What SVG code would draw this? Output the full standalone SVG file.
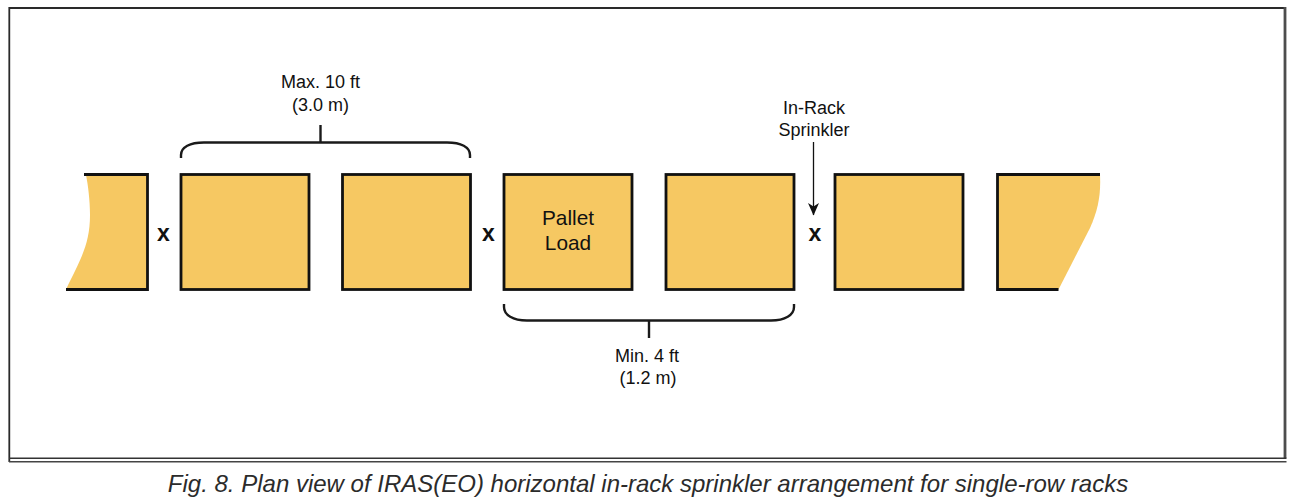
<svg xmlns="http://www.w3.org/2000/svg" width="1300" height="502" viewBox="0 0 1300 502">
<style>
.load{fill:#f6c862;stroke:#111;stroke-width:2.8}
.fill{fill:#f6c862;stroke:none}
.edge{fill:none;stroke:#111;stroke-width:2.8}
.brace{fill:none;stroke:#1a1a1a;stroke-width:2.4}
text{font-family:"Liberation Sans",Arial,sans-serif;fill:#111}
.lbl{font-size:18px;text-anchor:middle}
.x{font-size:23px;font-weight:bold;text-anchor:middle}
.pl{font-size:20.800px;text-anchor:middle}
.cap{font-size:24px;font-style:italic;fill:#2b2b2b;text-anchor:middle}
</style>
<defs>
<marker id="arrow" markerUnits="userSpaceOnUse" markerWidth="13" markerHeight="11" refX="12" refY="5.500" orient="auto" viewBox="0 0 13 11"><path d="M0,0 L3.500,5.500 L0,11 L12.500,5.500 Z" fill="#111"/></marker>
</defs>
<rect id="frame" x="0" y="0" width="1300" height="502" fill="#fff"/>
<path d="M9.300 462 V8 H1285" fill="none" stroke="#2a2a2a" stroke-width="1.800"/>
<path d="M1285 7 V458" fill="none" stroke="#4d4d4d" stroke-width="2.800"/>
<path d="M9 458.300 H1286.500" fill="none" stroke="#333" stroke-width="1.600"/>
<path d="M9 461.800 H1286.500" fill="none" stroke="#444" stroke-width="1.400"/>
<g id="load-left">
<path class="fill" d="M86 175 H147.500 V289.500 H66 C80 260 90 245 90 215 C90 200 88 185 86 175 Z"/>
<path class="edge" d="M84 174.500 H147.500 V289.500 H66"/>
</g>
<g id="load-1"><rect class="load" x="181" y="174.500" width="128" height="115"/></g>
<g id="load-2"><rect class="load" x="342.500" y="174.500" width="128" height="115"/></g>
<g id="load-3"><rect class="load" x="504" y="174.500" width="128" height="115"/>
<text class="pl" x="568" y="225">Pallet</text><text class="pl" x="568" y="250">Load</text></g>
<g id="load-4"><rect class="load" x="666" y="174.500" width="128" height="115"/></g>
<g id="load-5"><rect class="load" x="835" y="174.500" width="128" height="115"/></g>
<g id="load-right">
<path class="fill" d="M997.500 175 H1100 C1101 195 1098 210 1090 228 L1058.500 289.500 H997.500 Z"/>
<path class="edge" d="M1100 174.500 H997.500 V289.500 H1058.500"/>
</g>
<g id="connectors">
<path class="brace" d="M181 158 V155 C181 147 190 142.500 204 142.500 H447 C461 142.500 470 147 470 155 V158"/>
<path class="brace" d="M320.500 142.500 V125"/>
<path class="brace" d="M504 304 V307 C504 315 513 320.500 527 320.500 H771 C785 320.500 794 315 794 307 V304"/>
<path class="brace" d="M649 320.500 V338"/>
<path d="M813.500 142 V215" fill="none" stroke="#111" stroke-width="1.300" marker-end="url(#arrow)"/>
</g>
<g id="markers">
<text class="x" x="163.500" y="241">x</text>
<text class="x" x="488.500" y="241">x</text>
<text class="x" x="815" y="241">x</text>
</g>
<g id="labels">
<text class="lbl" x="320.500" y="88">Max. 10 ft</text>
<text class="lbl" x="320.500" y="111">(3.0 m)</text>
<text class="lbl" x="814" y="114">In-Rack</text>
<text class="lbl" x="814" y="136">Sprinkler</text>
<text class="lbl" x="647" y="362">Min. 4 ft</text>
<text class="lbl" x="648" y="384">(1.2 m)</text>
</g>
<text class="cap" x="648" y="492">Fig. 8. Plan view of IRAS(EO) horizontal in-rack sprinkler arrangement for single-row racks</text>
</svg>
